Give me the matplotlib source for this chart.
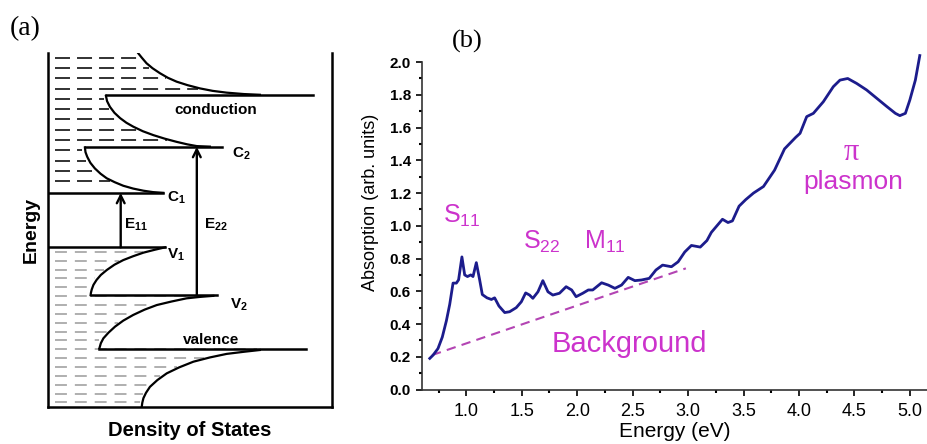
import numpy as np
import matplotlib.pyplot as plt
from matplotlib.ticker import MultipleLocator

plt.rcParams['font.family'] = ['Liberation Sans', 'DejaVu Sans']
plt.rcParams['mathtext.fontset'] = 'custom'
plt.rcParams['mathtext.rm'] = 'Liberation Sans'
plt.rcParams['mathtext.it'] = 'Liberation Sans:italic'
plt.rcParams['mathtext.bf'] = 'Liberation Sans:bold'

# ---- panel (a): schematic density of states (u = DOS, E = energy, arb.) ----
band_edges = {'C3': 8.81, 'C2': 7.35, 'C1': 6.05, 'V1': 4.51, 'V2': 3.16, 'V3': 1.63}
band_lines = {  # (u_start, u_end) of the horizontal line at each band edge
    'C3': (0.204, 0.934), 'C2': (0.130, 0.612), 'C1': (0.0, 0.406),
    'V1': (0.0, 0.412), 'V2': (0.150, 0.594), 'V3': (0.181, 0.908),
}
tail_C3_u = [0.318, 0.330, 0.347, 0.368, 0.394, 0.422, 0.453, 0.492, 0.535, 0.580, 0.629, 0.690, 0.746]
tail_C3_E = [9.99, 9.87, 9.71, 9.57, 9.43, 9.30, 9.19, 9.09, 9.00, 8.93, 8.88, 8.84, 8.82]
tail_C2_u = [0.204, 0.208, 0.218, 0.234, 0.254, 0.276, 0.300, 0.334, 0.371, 0.411, 0.453, 0.490, 0.524, 0.570]
tail_C2_E = [8.79, 8.64, 8.48, 8.31, 8.16, 8.03, 7.92, 7.79, 7.68, 7.58, 7.49, 7.42, 7.37, 7.355]
tail_C1_u = [0.130, 0.132, 0.138, 0.149, 0.165, 0.185, 0.207, 0.235, 0.265, 0.300, 0.336, 0.370, 0.406]
tail_C1_E = [7.33, 7.20, 7.07, 6.90, 6.74, 6.59, 6.46, 6.35, 6.25, 6.17, 6.11, 6.07, 6.05]
tail_V1_u = [0.412, 0.375, 0.336, 0.300, 0.265, 0.234, 0.207, 0.186, 0.171, 0.160, 0.154, 0.151, 0.150]
tail_V1_E = [4.51, 4.44, 4.36, 4.26, 4.15, 4.02, 3.87, 3.73, 3.59, 3.45, 3.32, 3.22, 3.16]
tail_V2_u = [0.582, 0.535, 0.488, 0.435, 0.383, 0.340, 0.300, 0.265, 0.236, 0.213, 0.195, 0.186, 0.181]
tail_V2_E = [3.14, 3.11, 3.07, 2.98, 2.88, 2.75, 2.60, 2.44, 2.27, 2.10, 1.94, 1.80, 1.66]
tail_V3_u = [0.746, 0.690, 0.629, 0.570, 0.512, 0.462, 0.418, 0.385, 0.359, 0.345, 0.336, 0.332, 0.330]
tail_V3_E = [1.61, 1.56, 1.50, 1.40, 1.28, 1.12, 0.95, 0.76, 0.57, 0.40, 0.25, 0.12, 0.0]

# ---- panel (b): absorption spectrum ----
energy = [0.67, 0.70, 0.744, 0.783, 0.82, 0.85, 0.88, 0.91, 0.93, 0.96, 0.985,
          1.01, 1.04, 1.06, 1.09, 1.12, 1.144, 1.186, 1.226, 1.255, 1.294, 1.346,
          1.39, 1.45, 1.496, 1.535, 1.57, 1.60, 1.646, 1.69, 1.736, 1.78, 1.84,
          1.90, 1.95, 1.99, 2.05, 2.10, 2.14, 2.22, 2.28, 2.34, 2.40, 2.46, 2.52,
          2.58, 2.65, 2.71, 2.77, 2.85, 2.91, 2.97, 3.03, 3.11, 3.17, 3.21, 3.26,
          3.31, 3.36, 3.40, 3.46, 3.52, 3.59, 3.68, 3.78, 3.87, 3.97, 4.01, 4.07,
          4.13, 4.22, 4.31, 4.37, 4.44, 4.52, 4.61, 4.70, 4.79, 4.87, 4.91, 4.96,
          5.00, 5.05, 5.09]
absorption = [0.19, 0.21, 0.25, 0.32, 0.42, 0.52, 0.65, 0.65, 0.67, 0.81, 0.70,
              0.69, 0.70, 0.69, 0.775, 0.67, 0.58, 0.56, 0.55, 0.56, 0.51, 0.47,
              0.475, 0.50, 0.536, 0.59, 0.577, 0.557, 0.597, 0.665, 0.597, 0.577, 0.588,
              0.628, 0.608, 0.567, 0.588, 0.608, 0.608, 0.652, 0.638, 0.618, 0.638, 0.685, 0.665,
              0.669, 0.679, 0.73, 0.76, 0.75, 0.78, 0.84, 0.88, 0.87, 0.91, 0.96, 1.00,
              1.04, 1.02, 1.03, 1.12, 1.16, 1.20, 1.24, 1.34, 1.47, 1.54, 1.565, 1.667,
              1.687, 1.758, 1.85, 1.89, 1.90, 1.87, 1.83, 1.78, 1.73, 1.687, 1.673, 1.687,
              1.768, 1.89, 2.04]
background_x = [0.69, 2.98]
background_y = [0.21, 0.74]

fig = plt.figure(figsize=(9.27, 4.44), dpi=100)

# ================= panel (a) =================
ax_a = fig.add_axes([48 / 927, 37 / 444, 284 / 927, 354 / 444])
ax_a.set_xlim(0, 1)
ax_a.set_ylim(0, 10)
ax_a.set_xticks([])
ax_a.set_yticks([])
ax_a.spines['top'].set_visible(False)
for s in ['left', 'bottom', 'right']:
    ax_a.spines[s].set_linewidth(1.8)

tails = [(tail_C3_u, tail_C3_E), (tail_C2_u, tail_C2_E), (tail_C1_u, tail_C1_E),
         (tail_V1_u, tail_V1_E), (tail_V2_u, tail_V2_E), (tail_V3_u, tail_V3_E)]


def dos_edge(e):
    # DOS curve value at energy e (used to stop the hatch lines)
    if e > band_edges['C3']:
        u, E = tail_C3_u, tail_C3_E
    elif e > band_edges['C2']:
        u, E = tail_C2_u, tail_C2_E
    elif e > band_edges['C1']:
        u, E = tail_C1_u, tail_C1_E
    elif e > band_edges['V2']:
        u, E = tail_V1_u, tail_V1_E
    elif e > band_edges['V3']:
        u, E = tail_V2_u, tail_V2_E
    else:
        u, E = tail_V3_u, tail_V3_E
    order = np.argsort(E)
    return np.interp(e, np.array(E)[order], np.array(u)[order])


# hatch lines (filled states)
for e in np.arange(9.87, 6.2, -0.291):
    ax_a.plot([0.025, dos_edge(e) - 0.01], [e, e], color='#222222', lw=1.3,
              ls=(0, (8.3, 3.9)), zorder=1)
for e in np.arange(4.38, 0.05, -0.25):
    ax_a.plot([0.025, dos_edge(e) - 0.01], [e, e], color='#9a9a9a', lw=1.1,
              ls=(0, (7.8, 5.2)), zorder=1)

for name, (u0, u1) in band_lines.items():
    ax_a.plot([u0, u1], [band_edges[name]] * 2, color='black', lw=1.8, zorder=3)
for u, E in tails:
    ax_a.plot(u, E, color='black', lw=1.6, zorder=3)

arrow_kw = dict(arrowstyle='->', lw=1.7, color='black', mutation_scale=14,
                shrinkA=0, shrinkB=0)
ax_a.annotate('', xy=(0.256, band_edges['C1']), xytext=(0.256, band_edges['V1']),
              arrowprops=arrow_kw)
ax_a.annotate('', xy=(0.524, band_edges['C2']), xytext=(0.524, band_edges['V2']),
              arrowprops=arrow_kw)

lab = dict(fontsize=11, fontweight='bold', va='center', ha='left')
ax_a.text(0.268, 5.15, r'$\mathbf{E_{11}}$', **lab)
ax_a.text(0.549, 5.15, r'$\mathbf{E_{22}}$', **lab)
ax_a.text(0.418, 5.90, r'$\mathbf{C_1}$', **lab)
ax_a.text(0.647, 7.15, r'$\mathbf{C_2}$', **lab)
ax_a.text(0.418, 4.30, r'$\mathbf{V_1}$', **lab)
ax_a.text(0.641, 2.90, r'$\mathbf{V_2}$', **lab)
ax_a.text(0.59, 8.39, 'conduction', fontsize=11, fontweight='bold', ha='center', va='center')
ax_a.text(0.573, 1.89, 'valence', fontsize=11, fontweight='bold', ha='center', va='center')

ax_a.set_ylabel('Energy', fontsize=14, fontweight='bold', labelpad=6)
ax_a.set_xlabel('Density of States', fontsize=14.5, fontweight='bold', labelpad=10)

fig.text(10 / 927, 1 - 29 / 444, '(a)', fontsize=20, family='Liberation Serif',
         ha='left', va='center')
fig.text(467 / 927, 1 - 41 / 444, '(b)', fontsize=19, family='Liberation Serif',
         ha='center', va='center')

# ================= panel (b) =================
ax_b = fig.add_axes([422 / 927, 54.5 / 444, 505 / 927, 339.5 / 444])
ax_b.plot(energy, absorption, color='#1c1c8c', lw=2.0, clip_on=False, zorder=3)
ax_b.plot(background_x, background_y, color='#b344b3', lw=1.5, ls=(0, (4.5, 3)))
ax_b.set_xlim(0.60, 5.155)
ax_b.set_ylim(0, 2.074)
ax_b.spines['top'].set_visible(False)
ax_b.spines['right'].set_visible(False)
ax_b.spines['left'].set_bounds(0, 2.0)
for s in ['left', 'bottom']:
    ax_b.spines[s].set_linewidth(1.2)
    ax_b.spines[s].set_color('#333333')

yticks = np.arange(0, 2.01, 0.2)
ax_b.set_xticks(np.arange(1.0, 5.01, 0.5))
ax_b.set_yticks(yticks)
ax_b.set_yticklabels([f'{v:.1f}' for v in yticks], fontweight='bold')
ax_b.xaxis.set_minor_locator(MultipleLocator(0.25))
ax_b.yaxis.set_minor_locator(MultipleLocator(0.1))
ax_b.tick_params(axis='x', which='major', length=4, width=1.2, labelsize=13, pad=6)
ax_b.tick_params(axis='y', which='major', length=4, width=1.2, labelsize=11, pad=4)
ax_b.tick_params(which='minor', length=2, width=1.5)

ax_b.set_xlabel('Energy (eV)', fontsize=15, labelpad=1)
ax_b.set_ylabel('Absorption (arb. units)', fontsize=13)
ax_b.yaxis.set_label_coords(-0.085, 0.55)

mag = '#cc33cc'
ax_b.text(0.79, 1.06, r'S$_{11}$', color=mag, fontsize=18, va='center', ha='left')
ax_b.text(1.51, 0.90, r'S$_{22}$', color=mag, fontsize=18, va='center', ha='left')
ax_b.text(2.06, 0.90, r'M$_{11}$', color=mag, fontsize=18, va='center', ha='left')
ax_b.text(4.47, 1.45, 'π', color=mag, fontsize=22, family='Liberation Serif',
          va='center', ha='center')
ax_b.text(4.49, 1.27, 'plasmon', color=mag, fontsize=19, va='center', ha='center')
ax_b.text(2.47, 0.275, 'Background', color=mag, fontsize=21, va='center', ha='center')

fig.savefig('out.png', dpi=100)
